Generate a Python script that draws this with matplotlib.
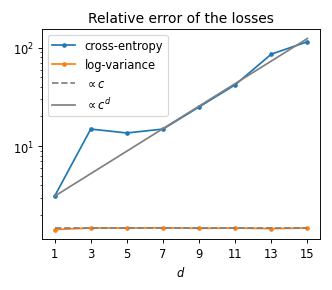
import matplotlib
matplotlib.use("Agg")
import matplotlib.pyplot as plt

d = [1, 3, 5, 7, 9, 11, 13, 15]
cross_entropy = [3.1, 14.9, 13.6, 14.9, 25.0, 42.0, 86.0, 115.0]
log_variance = [1.42, 1.47, 1.47, 1.48, 1.46, 1.47, 1.45, 1.47]
prop_c = [1.47, 1.47, 1.47, 1.47, 1.47, 1.47, 1.47, 1.47]
prop_cd = [3.1, 5.25, 8.89, 15.06, 25.5, 43.2, 73.2, 124.0]

fig = plt.figure(figsize=(4.0, 3.506), dpi=83)
ax = fig.add_axes([0.1265, 0.175, 0.8375, 0.722])

ax.plot(d, cross_entropy, marker="o", markersize=3, label="cross-entropy")
ax.plot(d, log_variance, marker="o", markersize=3, label="log-variance")
ax.plot(d, prop_c, "--", color="grey", label=r"$\propto c$")
ax.plot(d, prop_cd, "-", color="grey", label=r"$\propto c^d$")

ax.set_yscale("log")
ax.set_xticks(d)
ax.set_xlabel("$d$")
ax.set_title("Relative error of the losses")
ax.legend(loc="upper left")

fig.savefig("out.png", dpi=83)
